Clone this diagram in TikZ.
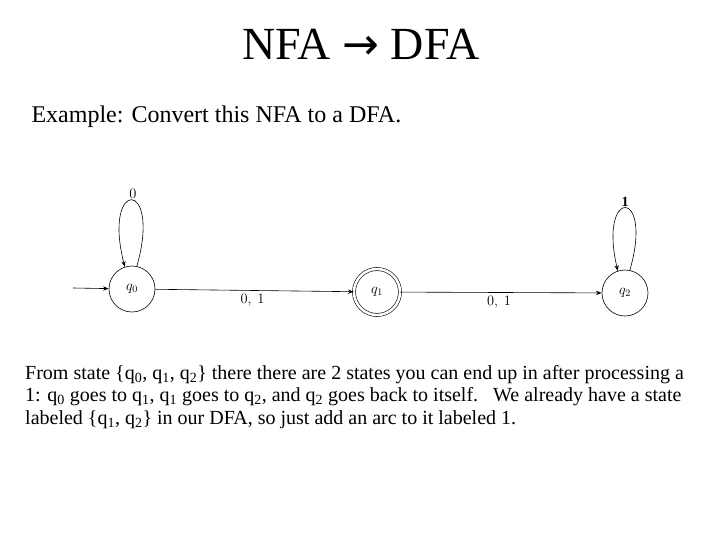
\documentclass[tikz,border=0pt]{standalone}
\usepackage{fontspec}
\setmainfont{Liberation Serif}
\newfontfamily\arrowfont{DejaVu Sans}
\usepackage{tikz}
\usetikzlibrary{arrows.meta}

\newcommand{\qsub}[1]{q\textsubscript{#1}}

\begin{document}
\begin{tikzpicture}[
x=1pt,y=-1pt,
>=Stealth,
every node/.style={font=\fontsize{14}{16}\selectfont},
state/.style={circle,draw,semithick,minimum size=46pt,inner sep=0pt},
accepting/.style={double,double distance=2.5pt},
trans/.style={->,semithick}
]
\useasboundingbox (0,0) rectangle (720,540);

% Title and example line
\node[anchor=base,font=\fontsize{46}{50}\selectfont] (title) at (361,60) {NFA {\arrowfont\fontsize{44}{48}\selectfont →} DFA};
\node[anchor=base west,font=\fontsize{24}{28}\selectfont] (intro) at (28,123) {Example: Convert this NFA to a DFA.};

% States
\node[state] (q0) at (132,289) {$q_0$};
\node[state,accepting] (q1) at (377,292) {$q_1$};
\node[state] (q2) at (625,293) {$q_2$};

% Initial Arrow
\coordinate (init) at (73,288);
\draw[trans] (init) -- (q0);

% Transitions
\draw[trans] (q0) -- node[below,pos=0.49]{$0,\ 1$} (q1);
\draw[trans] (q1) -- node[below,pos=0.49]{$0,\ 1$} (q2);

\draw[trans] (q0.78) .. controls (162,178) and (102,178) .. (q0.108);
\node (lab0) at (133,194) {$0$};
\draw[trans] (q2.78) .. controls (654,187) and (598,187) .. (q2.108);
\node (lab1) at (625,202) {$\mathbf{1}$};

% Explanation
\node[anchor=base west,align=left,inner sep=0pt,
font=\fontsize{20}{22.5}\selectfont] (expl) at (25,424)
{From state \{\qsub{0}, \qsub{1}, \qsub{2}\} there there are 2 states you can end up in after processing a\\
1: \qsub{0} goes to \qsub{1}, \qsub{1} goes to \qsub{2}, and \qsub{2} goes back to itself.\ \ \ We already have a state\\
labeled \{\qsub{1}, \qsub{2}\} in our DFA, so just add an arc to it labeled 1.};

\end{tikzpicture}
\end{document}
